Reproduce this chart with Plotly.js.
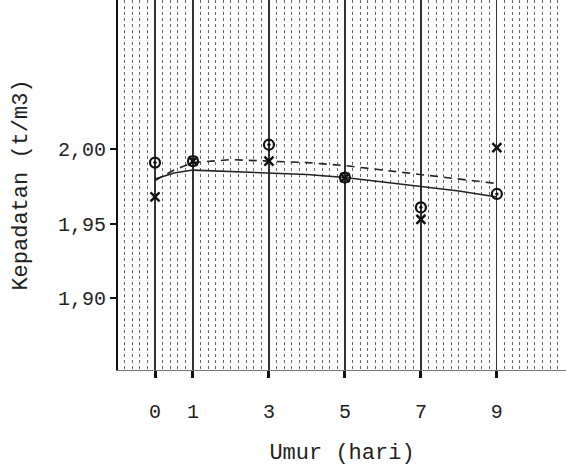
<!DOCTYPE html>
<html><head><meta charset="utf-8">
<script src="https://cdn.plot.ly/plotly-3.0.1.min.js"></script>
<style>html,body{margin:0;padding:0;background:#fff}</style>
</head><body><div id="chart" style="width:566px;height:473px"></div>
<script>
// Data
const days = [0, 1, 3, 5, 7, 9];
const densityO = [1.991, 1.992, 2.003, 1.981, 1.961, 1.970];
const densityX = [1.968, 1.992, 1.992, 1.981, 1.953, 2.001];
const trendDays = [0, 0.5, 1, 2, 3, 4, 5, 6, 7, 8, 9];
const trendSolid = [1.980, 1.984, 1.986, 1.985, 1.984, 1.983, 1.981, 1.978, 1.975, 1.972, 1.968];
const trendDashed = [1.979, 1.986, 1.991, 1.993, 1.992, 1.991, 1.989, 1.986, 1.983, 1.980, 1.977];
const xTicks = [0, 1, 3, 5, 7, 9];
const yTicks = [1.90, 1.95, 2.00];

const mono = "Liberation Mono, DejaVu Sans Mono, monospace";
const traces = [
  {x: trendDays, y: trendSolid, mode: 'lines', line: {color: '#222', width: 1.6}, showlegend: false},
  {x: trendDays, y: trendDashed, mode: 'lines', line: {color: '#222', width: 1.6, dash: '8px,6px'}, showlegend: false},
  {x: days, y: densityO, mode: 'markers', marker: {symbol: 'circle-open-dot', size: 10, color: '#111', line: {width: 2.2}}, showlegend: false},
  {x: days, y: densityX, mode: 'markers', marker: {symbol: 'x-thin-open', size: 9, color: '#111', line: {width: 2.5}}, showlegend: false}
];
const layout = {
  width: 566, height: 473,
  margin: {l: 118, r: 0, t: 0, b: 103},
  paper_bgcolor: '#fff', plot_bgcolor: '#fff',
  separators: ',.',
  showlegend: false,
  xaxis: {
    range: [-0.974, 10.82], tickmode: 'array', tickvals: xTicks, ticktext: xTicks.map(String),
    ticks: 'outside', ticklen: 7, tickwidth: 3, tickcolor: '#111',
    ticklabelstandoff: 16,
    showline: true, linecolor: '#777', linewidth: 1,
    showgrid: true, gridcolor: '#333', gridwidth: 1.2,
    minor: {tickmode: 'linear', tick0: 0, dtick: 0.2, showgrid: true, gridcolor: '#666', griddash: 'dot', gridwidth: 1, ticks: ''},
    zeroline: false,
    tickfont: {family: mono, size: 20, color: '#222'},
    title: {text: 'Umur (hari)', font: {family: mono, size: 22, color: '#222'}, standoff: 20}
  },
  yaxis: {
    range: [1.852, 2.10], tickmode: 'array', tickvals: yTicks, tickformat: '.2f',
    ticks: 'outside', ticklen: 6, tickwidth: 2, tickcolor: '#111',
    showline: true, linecolor: '#111', linewidth: 2,
    showgrid: false, zeroline: false,
    tickfont: {family: mono, size: 20, color: '#222'},
    title: {text: 'Kepadatan (t/m3)', font: {family: mono, size: 22, color: '#222'}, standoff: 24}
  }
};
Plotly.newPlot('chart', traces, layout, {staticPlot: true, displayModeBar: false});
</script></body></html>
